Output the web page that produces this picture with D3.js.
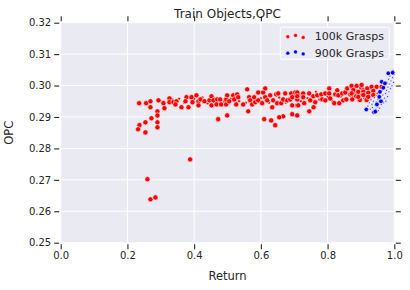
<!DOCTYPE html>
<html>
<head>
<meta charset="utf-8">
<script src="https://cdn.jsdelivr.net/npm/d3@7"></script>
<style>
  body { margin: 0; background: #fff; }
  svg text { font-family: "DejaVu Sans", sans-serif; fill: #262626; }
</style>
</head>
<body>
<div id="chart-container"></div>
<script>
// 100k Grasps (red) - Return / OPC pairs
var redReturn = [
  0.235, 0.256, 0.269, 0.269, 0.290, 0.290, 0.272, 0.254, 0.290, 0.236, 0.232, 0.254, 0.290,
  0.388, 0.260, 0.269, 0.284, 0.472, 0.499, 0.562, 0.610, 0.631, 0.643, 0.667, 0.655, 0.694, 0.709, 0.745, 0.758,
  0.293, 0.308, 0.311, 0.326, 0.326, 0.338, 0.347, 0.344, 0.362, 0.377, 0.374, 0.383, 0.392, 0.395, 0.407, 0.413, 0.413,
  0.419, 0.431, 0.446, 0.452, 0.452, 0.458, 0.469, 0.467,
  0.478, 0.481, 0.496, 0.496, 0.499, 0.505, 0.517, 0.520, 0.526, 0.529, 0.532, 0.547, 0.559, 0.565, 0.568, 0.574,
  0.580, 0.583, 0.592, 0.592, 0.604, 0.607, 0.613, 0.613, 0.619, 0.628, 0.634, 0.637, 0.646, 0.649, 0.652, 0.661,
  0.667, 0.673, 0.679, 0.688, 0.691, 0.694, 0.703, 0.709, 0.709, 0.712,
  0.694, 0.709, 0.709, 0.712, 0.727, 0.727, 0.730, 0.745, 0.748, 0.757, 0.763, 0.769, 0.781, 0.784, 0.793, 0.793,
  0.805, 0.805, 0.808, 0.820, 0.823, 0.829, 0.832, 0.835, 0.844, 0.847, 0.853, 0.856, 0.859, 0.868, 0.871, 0.874,
  0.880, 0.886, 0.889, 0.895, 0.901, 0.904, 0.907, 0.913, 0.919, 0.919,
  0.932, 0.947, 0.962, 0.917, 0.897, 0.917, 0.872, 0.887, 0.902, 0.877, 0.892, 0.907, 0.922, 0.937, 0.872, 0.892,
  0.907, 0.922, 0.937
];
var redOPC = [
  0.2944, 0.2944, 0.2950, 0.2931, 0.2918, 0.2905, 0.2896, 0.2883, 0.2883, 0.2874, 0.2861, 0.2851, 0.2867,
  0.2765, 0.2702, 0.2638, 0.2644, 0.2893, 0.2905, 0.2918, 0.2893, 0.2889, 0.2874, 0.2902, 0.2899, 0.2909, 0.2905, 0.2918, 0.2931,
  0.2953, 0.2944, 0.2928, 0.2959, 0.2947, 0.2947, 0.2950, 0.2940, 0.2931, 0.2963, 0.2950, 0.2931, 0.2963, 0.2947, 0.2969, 0.2950, 0.2937,
  0.2956, 0.2950, 0.2953, 0.2966, 0.2937, 0.2953, 0.2956, 0.2940,
  0.2956, 0.2940, 0.2956, 0.2940, 0.2969, 0.2950, 0.2969, 0.2956, 0.2940, 0.2972, 0.2963, 0.2940, 0.2988, 0.2963, 0.2953, 0.2940,
  0.2963, 0.2947, 0.2978, 0.2953, 0.2944, 0.2978, 0.2991, 0.2963, 0.2953, 0.2969, 0.2931, 0.2953, 0.2972, 0.2944, 0.2975, 0.2944,
  0.2956, 0.2975, 0.2953, 0.2956, 0.2975, 0.2937, 0.2978, 0.2956, 0.2937, 0.2972,
  0.2963, 0.2978, 0.2966, 0.2937, 0.2975, 0.2963, 0.2944, 0.2975, 0.2953, 0.2966, 0.2947, 0.2969, 0.2972, 0.2956, 0.2975, 0.2953,
  0.2991, 0.2975, 0.2959, 0.2944, 0.2972, 0.2985, 0.2969, 0.2944, 0.2975, 0.2953, 0.2978, 0.2956, 0.2991, 0.2972, 0.2997, 0.2956,
  0.2978, 0.2966, 0.2981, 0.2956, 0.2994, 0.2972, 0.2985, 0.2969, 0.2991, 0.2975,
  0.2996, 0.2996, 0.2996, 0.2973, 0.2954, 0.2954, 0.2999, 0.2999, 0.3002, 0.2986, 0.2980, 0.2980, 0.2977, 0.2983, 0.2975, 0.2964,
  0.2970, 0.2964, 0.2970
];
// smaller, overlapped red points inside the band
var redSmallReturn = [0.300, 0.335, 0.355, 0.370, 0.400, 0.425, 0.440, 0.460, 0.490, 0.510, 0.535, 0.555, 0.575, 0.600, 0.625,
  0.655, 0.675, 0.700, 0.720, 0.740, 0.765, 0.775, 0.800, 0.815, 0.840, 0.860, 0.875, 0.895, 0.910, 0.925, 0.940, 0.950];
var redSmallOPC = [0.2950, 0.2955, 0.2958, 0.2945, 0.2958, 0.2962, 0.2943, 0.2960, 0.2948, 0.2958, 0.2950, 0.2945, 0.2957, 0.2960, 0.2945,
  0.2962, 0.2945, 0.2966, 0.2950, 0.2960, 0.2980, 0.2955, 0.2965, 0.2950, 0.2965, 0.2985, 0.2965, 0.2985, 0.2960, 0.2990, 0.2985, 0.2975];

// 900k Grasps (blue)
var blueReturn = [0.916, 0.939, 0.943, 0.962, 0.972, 0.967, 0.957, 0.955, 0.982, 0.995, 0.960, 0.948];
var blueOPC = [0.2924, 0.2915, 0.2917, 0.3012, 0.3007, 0.2993, 0.2980, 0.2964, 0.3039, 0.3041, 0.2950, 0.2940];
var blueSmallReturn = [0.921, 0.925, 0.928, 0.930, 0.933, 0.935, 0.937, 0.940, 0.942, 0.944, 0.946, 0.948, 0.950, 0.951, 0.953,
  0.955, 0.956, 0.958, 0.960, 0.961, 0.963, 0.964, 0.966, 0.968, 0.969, 0.971, 0.972, 0.974, 0.975, 0.977, 0.978, 0.980,
  0.981, 0.983, 0.984, 0.986, 0.987, 0.989, 0.990, 0.992, 0.993, 0.995, 0.996, 0.998, 0.999, 0.938, 0.952, 0.945];
var blueSmallOPC = [0.2935, 0.2945, 0.2925, 0.2955, 0.2940, 0.2930, 0.2950, 0.2962, 0.2938, 0.2925, 0.2948, 0.2968, 0.2932, 0.2955, 0.2942,
  0.2975, 0.2928, 0.2950, 0.2965, 0.2940, 0.2985, 0.2955, 0.2970, 0.2945, 0.2990, 0.2960, 0.3000, 0.2975, 0.2950, 0.2985, 0.3010, 0.2965,
  0.2995, 0.3020, 0.2980, 0.3005, 0.3030, 0.2990, 0.3015, 0.3040, 0.3000, 0.3025, 0.3048, 0.3010, 0.3035, 0.2918, 0.2920, 0.2915];

var xTicks = [0.0, 0.2, 0.4, 0.6, 0.8, 1.0];
var yTicks = [0.25, 0.26, 0.27, 0.28, 0.29, 0.30, 0.31, 0.32];
var seriesNames = ['100k Grasps', '900k Grasps'];
var seriesColors = ['#ff0000', '#0000ff'];

var svgWidth = 410,
    svgHeight = 290,
    margin = { top: 22.7, right: 15.7, bottom: 47.3, left: 60.7 },
    width = svgWidth - margin.left - margin.right,
    height = svgHeight - margin.top - margin.bottom;

var svg = d3.select('#chart-container').append('svg').attr('width', svgWidth).attr('height', svgHeight);
var g = svg.append('g').attr('transform', 'translate(' + margin.left + ',' + margin.top + ')');

var x = d3.scaleLinear().domain([0, 1]).range([0, width]);
var y = d3.scaleLinear().domain([0.25, 0.32]).range([height, 0]);

g.append('rect').attr('width', width).attr('height', height).attr('fill', '#eaeaf2');

// grid
g.selectAll('.gx').data(xTicks).enter().append('line')
  .attr('x1', function(d) { return x(d); }).attr('x2', function(d) { return x(d); })
  .attr('y1', 0).attr('y2', height)
  .attr('stroke', '#fff').attr('stroke-width', 1);
g.selectAll('.gy').data(yTicks).enter().append('line')
  .attr('y1', function(d) { return y(d); }).attr('y2', function(d) { return y(d); })
  .attr('x1', 0).attr('x2', width)
  .attr('stroke', '#fff').attr('stroke-width', 1);

// axes on four sides, ticks outward
function styleAxis(sel) {
  sel.select('.domain').remove();
  sel.selectAll('line').attr('stroke', '#262626').attr('stroke-width', 1.1);
  sel.selectAll('text').attr('font-size', '10px').attr('fill', '#262626');
}
var fmtX = d3.format('.1f'), fmtY = d3.format('.2f');
g.append('g').attr('transform', 'translate(0,' + (height + 1.5) + ')')
  .call(d3.axisBottom(x).tickValues(xTicks).tickFormat(fmtX).tickSize(5).tickPadding(3)).call(styleAxis);
g.append('g').attr('transform', 'translate(0,-1.5)')
  .call(d3.axisTop(x).tickValues(xTicks).tickFormat('').tickSize(5)).call(styleAxis);
g.append('g').attr('transform', 'translate(-1.5,0)')
  .call(d3.axisLeft(y).tickValues(yTicks).tickFormat(fmtY).tickSize(5).tickPadding(3)).call(styleAxis);
g.append('g').attr('transform', 'translate(' + (width + 1.5) + ',0)')
  .call(d3.axisRight(y).tickValues(yTicks).tickFormat('').tickSize(5)).call(styleAxis);

// points
function drawPoints(xs, ys, color, r, sw) {
  g.append('g').selectAll('circle').data(d3.range(xs.length)).enter().append('circle')
    .attr('cx', function(i) { return x(xs[i]); })
    .attr('cy', function(i) { return y(ys[i]); })
    .attr('r', r)
    .attr('fill', color)
    .attr('stroke', '#fff')
    .attr('stroke-width', sw);
}
drawPoints(redSmallReturn, redSmallOPC, seriesColors[0], 1.4, 0.5);
drawPoints(redReturn, redOPC, seriesColors[0], 2.6, 0.6);
drawPoints(blueSmallReturn, blueSmallOPC, seriesColors[1], 0.9, 0.7);
drawPoints(blueReturn, blueOPC, seriesColors[1], 2.3, 0.6);

// labels
g.append('text').attr('x', width / 2).attr('y', -5).attr('text-anchor', 'middle')
  .attr('font-size', '12px').text('Train Objects,OPC');
g.append('text').attr('x', width / 2).attr('y', height + 37).attr('text-anchor', 'middle')
  .attr('font-size', '11.5px').text('Return');
g.append('text').attr('transform', 'rotate(-90)').attr('x', -height / 2).attr('y', -47.5)
  .attr('text-anchor', 'middle').attr('font-size', '11.5px').text('OPC');

// legend
var lg = g.append('g').attr('transform', 'translate(' + (width - 114) + ',4.5)');
lg.append('rect').attr('width', 109).attr('height', 32).attr('rx', 1.5)
  .attr('fill', '#eaeaf2').attr('fill-opacity', 0.8).attr('stroke', '#fff').attr('stroke-width', 1);
var offs = [0.5, -0.8, 1.2];
seriesNames.forEach(function(name, k) {
  var cy = 9 + k * 16.5;
  offs.forEach(function(o, j) {
    lg.append('circle').attr('cx', 7.5 + j * 7.7).attr('cy', cy + o).attr('r', 1.9)
      .attr('fill', seriesColors[k]).attr('stroke', '#fff').attr('stroke-width', 0.4);
  });
  lg.append('text').attr('x', 34.5).attr('y', cy + 4).attr('font-size', '11px').text(name);
});
</script>
</body>
</html>
